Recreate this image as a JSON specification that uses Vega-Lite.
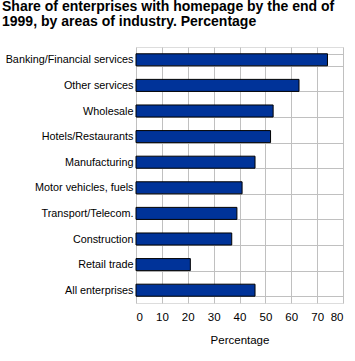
{
  "$schema": "https://vega.github.io/schema/vega-lite/v6.json",
  "autosize": "none",
  "width": 207,
  "height": 256,
  "padding": {"left": 136, "top": 47, "right": 12, "bottom": 58},
  "title": {
    "text": ["Share of enterprises with homepage by the end of", "1999, by areas of industry. Percentage"],
    "anchor": "start",
    "frame": "group",
    "dx": -134,
    "offset": 12,
    "font": "Liberation Sans",
    "fontSize": 14,
    "fontWeight": "bold",
    "color": "black",
    "lineHeight": 15
  },
  "data": {
    "values": [
      {"industry": "Banking/Financial services", "value": 74},
      {"industry": "Other services", "value": 63},
      {"industry": "Wholesale", "value": 53},
      {"industry": "Hotels/Restaurants", "value": 52},
      {"industry": "Manufacturing", "value": 46},
      {"industry": "Motor vehicles, fuels", "value": 41},
      {"industry": "Transport/Telecom.", "value": 39},
      {"industry": "Construction", "value": 37},
      {"industry": "Retail trade", "value": 21},
      {"industry": "All enterprises", "value": 46}
    ]
  },
  "mark": {"type": "bar", "color": "#003399", "stroke": "black", "strokeWidth": 1},
  "encoding": {
    "y": {
      "field": "industry", "type": "nominal", "sort": null,
      "scale": {"paddingInner": 0.53, "paddingOuter": 0.265},
      "axis": {
        "title": null, "domain": false, "tickSize": 0, "labelPadding": 3,
        "grid": true, "tickBand": "extent", "gridColor": "#c0c0c0", "gridWidth": 1,
        "labelFont": "Liberation Sans", "labelFontSize": 10.8, "labelColor": "black"
      }
    },
    "x": {
      "field": "value", "type": "quantitative",
      "scale": {"domain": [0, 80], "nice": false},
      "axis": {
        "title": "Percentage", "values": [0,10,20,30,40,50,60,70,80],
        "domain": false, "tickSize": 0, "labelPadding": 8, "titlePadding": 12,
        "grid": true, "gridColor": "#c0c0c0", "gridWidth": 1,
        "labelFont": "Liberation Sans", "labelFontSize": 11.5, "labelColor": "black",
        "titleFont": "Liberation Sans", "titleFontSize": 11.5, "titleFontWeight": "normal", "titleColor": "black"
      }
    }
  }
}
